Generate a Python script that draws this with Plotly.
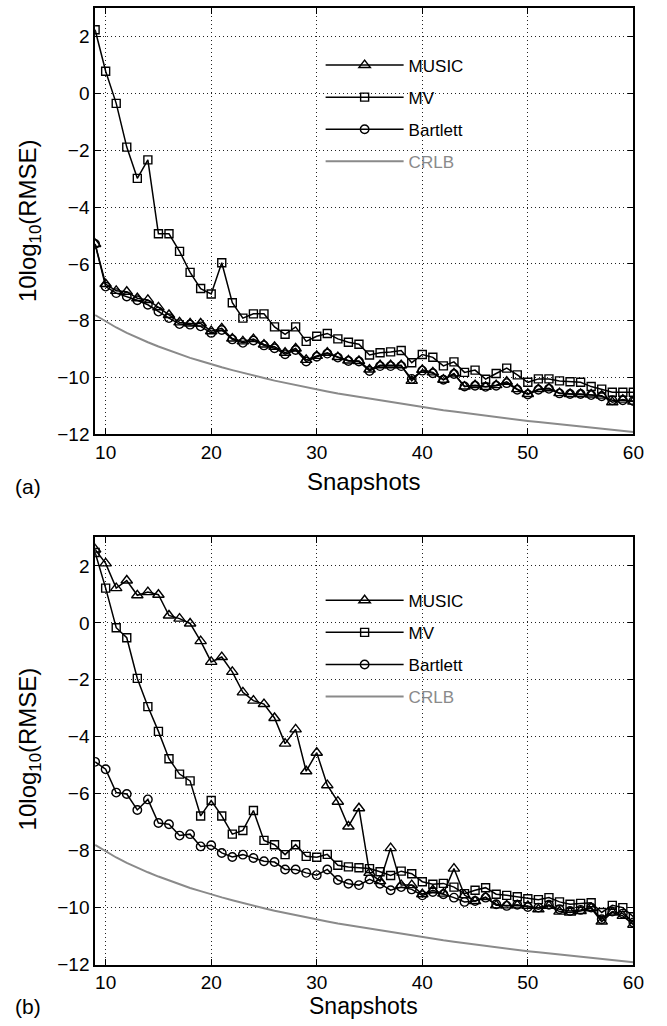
import plotly.graph_objects as go

W, H = 667, 1026

snapshots = list(range(9, 61))

# ---- panel (a) ----
music_a = [-5.30, -6.71, -6.95, -6.98, -7.21, -7.27, -7.53, -7.80, -8.06, -8.10,
           -8.10, -8.37, -8.27, -8.63, -8.73, -8.65, -8.84, -8.92, -9.13, -8.98,
           -9.38, -9.24, -9.13, -9.28, -9.40, -9.42, -9.72, -9.57, -9.57, -9.57,
           -10.12, -9.73, -9.82, -10.08, -9.86, -10.32, -10.27, -10.33, -10.27, -10.15,
           -10.41, -10.58, -10.41, -10.38, -10.55, -10.58, -10.58, -10.60, -10.64, -10.87,
           -10.78, -10.85]
mv_a = [2.24, 0.78, -0.35, -1.89, -2.99, -2.34, -4.94, -4.94, -5.56, -6.30,
        -6.87, -7.06, -5.96, -7.37, -7.91, -7.76, -7.76, -8.22, -8.48, -8.22,
        -8.73, -8.55, -8.45, -8.64, -8.76, -8.83, -9.21, -9.13, -9.10, -9.05,
        -9.48, -9.19, -9.29, -9.59, -9.45, -9.82, -9.74, -10.06, -9.86, -9.67,
        -9.91, -10.17, -10.05, -10.05, -10.12, -10.15, -10.17, -10.32, -10.41, -10.52,
        -10.52, -10.52]
bartlett_a = [-5.30, -6.80, -7.03, -7.15, -7.28, -7.44, -7.68, -7.91, -8.12, -8.14,
              -8.20, -8.43, -8.33, -8.66, -8.78, -8.70, -8.87, -8.97, -9.18, -9.03,
              -9.44, -9.27, -9.16, -9.30, -9.42, -9.44, -9.77, -9.60, -9.60, -9.60,
              -10.05, -9.76, -9.85, -10.08, -9.88, -10.32, -10.29, -10.33, -10.29, -10.20,
              -10.43, -10.60, -10.43, -10.40, -10.56, -10.58, -10.58, -10.62, -10.66, -10.80,
              -10.80, -10.83]

# ---- panel (b) ----
music_b = [2.58, 2.09, 1.22, 1.49, 0.97, 1.08, 0.99, 0.26, 0.15, -0.02,
           -0.64, -1.37, -1.20, -1.72, -2.44, -2.73, -2.85, -3.34, -4.24, -3.74,
           -5.21, -4.56, -5.70, -6.28, -7.15, -6.51, -8.78, -9.07, -7.91, -9.21,
           -9.21, -9.53, -9.39, -9.51, -8.63, -9.56, -9.77, -9.63, -9.92, -9.92,
           -9.92, -9.94, -10.06, -9.94, -10.14, -10.17, -10.12, -10.02, -10.49, -10.17,
           -10.29, -10.60]
mv_b = [2.47, 1.22, -0.17, -0.52, -1.95, -2.94, -3.81, -4.77, -5.31, -5.55,
        -6.78, -6.24, -6.78, -7.42, -7.29, -6.59, -7.64, -7.79, -8.14, -7.79,
        -8.20, -8.23, -8.13, -8.51, -8.57, -8.60, -8.63, -8.74, -8.87, -8.72,
        -8.81, -9.09, -9.18, -9.15, -9.28, -9.51, -9.39, -9.30, -9.53, -9.57,
        -9.62, -9.69, -9.72, -9.65, -9.80, -9.88, -9.85, -9.83, -10.17, -9.92,
        -10.00, -10.32]
bartlett_b = [-4.88, -5.14, -5.96, -6.01, -6.57, -6.20, -7.03, -7.07, -7.47, -7.42,
              -7.85, -7.81, -8.08, -8.22, -8.14, -8.26, -8.37, -8.40, -8.66, -8.66,
              -8.78, -8.86, -8.66, -9.03, -9.16, -9.21, -9.01, -9.16, -9.39, -9.28,
              -9.36, -9.57, -9.45, -9.53, -9.65, -9.80, -9.77, -9.65, -9.88, -9.94,
              -9.90, -9.98, -10.00, -9.90, -10.06, -10.12, -10.08, -10.00, -10.41, -10.14,
              -10.21, -10.52]

# CRLB (same in both panels)
crlb = [-7.80, -8.03, -8.24, -8.43, -8.60, -8.76, -8.91, -9.05, -9.18, -9.31,
        -9.42, -9.54, -9.64, -9.74, -9.84, -9.93, -10.02, -10.11, -10.19, -10.27,
        -10.34, -10.42, -10.49, -10.56, -10.62, -10.69, -10.75, -10.81, -10.87, -10.93,
        -10.99, -11.04, -11.09, -11.15, -11.20, -11.25, -11.30, -11.34, -11.39, -11.44,
        -11.48, -11.53, -11.57, -11.61, -11.65, -11.69, -11.73, -11.77, -11.81, -11.85,
        -11.88, -11.92]

x_ticks = [10, 20, 30, 40, 50, 60]
y_ticks = [-12, -10, -8, -6, -4, -2, 0, 2]

FONT = "Liberation Sans, Arial, Helvetica, sans-serif"

def px_x(p):
    return p / W

def px_y(p):
    return 1 - p / H

fig = go.Figure()

panels = [
    ("x", "y", "legend", "a", music_a, mv_a, bartlett_a),
    ("x2", "y2", "legend2", "b", music_b, mv_b, bartlett_b),
]

for xa, ya, lg, tag, mu, mv, ba in panels:
    fig.add_trace(go.Scatter(
        x=snapshots, y=mu, name="MUSIC", mode="lines+markers", xaxis=xa, yaxis=ya,
        legend=lg, legendgroup=tag + "1",
        line=dict(color="black", width=1.5),
        marker=dict(symbol="triangle-up-open", size=10, color="black", line=dict(width=1.4))))
    fig.add_trace(go.Scatter(
        x=snapshots, y=mv, name="MV", mode="lines+markers", xaxis=xa, yaxis=ya,
        legend=lg, legendgroup=tag + "2",
        line=dict(color="black", width=1.5),
        marker=dict(symbol="square-open", size=8, color="black", line=dict(width=1.4))))
    fig.add_trace(go.Scatter(
        x=snapshots, y=ba, name="Bartlett", mode="lines+markers", xaxis=xa, yaxis=ya,
        legend=lg, legendgroup=tag + "3",
        line=dict(color="black", width=1.5),
        marker=dict(symbol="circle-open", size=8.5, color="black", line=dict(width=1.4))))
    fig.add_trace(go.Scatter(
        x=snapshots, y=crlb, name='<span style="color:#8a8a8a">CRLB</span>', mode="lines",
        xaxis=xa, yaxis=ya, legend=lg, legendgroup=tag + "4",
        line=dict(color="#8a8a8a", width=2)))

x_dom = [px_x(96.7), px_x(644)]
y_dom_a = [px_y(439), px_y(8.3)]
y_dom_b = [px_y(975), px_y(543.3)]

axis_common = dict(
    showline=True, linecolor="black", linewidth=1.6, mirror="all",
    ticks="inside", ticklen=6, tickwidth=1.3, tickcolor="black",
    showgrid=True, gridcolor="#222222", gridwidth=1, griddash="1px,3px",
    zeroline=False, tickfont=dict(family=FONT, size=19, color="black"),
)

xcfg = dict(axis_common, range=[9, 60], tickvals=x_ticks, domain=x_dom)
ycfg = dict(axis_common, range=[-12, 3], tickvals=y_ticks)

legend_common = dict(xanchor="left", yanchor="top", bgcolor="rgba(0,0,0,0)",
                     font=dict(family=FONT, size=17, color="black"),
                     tracegroupgap=7, itemwidth=78)

fig.update_layout(
    width=W, height=H,
    margin=dict(l=0, r=0, t=0, b=0),
    paper_bgcolor="white", plot_bgcolor="white",
    font=dict(family=FONT, color="black"),
    xaxis=dict(xcfg, anchor="y"),
    yaxis=dict(ycfg, domain=y_dom_a, anchor="x"),
    xaxis2=dict(xcfg, anchor="y2"),
    yaxis2=dict(ycfg, domain=y_dom_b, anchor="x2"),
    legend=dict(legend_common, x=px_x(326), y=px_y(48)),
    legend2=dict(legend_common, x=px_x(326), y=px_y(589)),
    showlegend=True,
)

ann = []
ytitle = "10log<sub>10</sub>(RMSE)"
ann.append(dict(text=ytitle, x=px_x(30), y=px_y(223), xref="paper", yref="paper",
                textangle=-90, showarrow=False, font=dict(family=FONT, size=24),
                xanchor="center", yanchor="middle"))
ann.append(dict(text=ytitle, x=px_x(30), y=px_y(757), xref="paper", yref="paper",
                textangle=-90, showarrow=False, font=dict(family=FONT, size=24),
                xanchor="center", yanchor="middle"))
ann.append(dict(text="Snapshots", x=px_x(370), y=px_y(487), xref="paper", yref="paper",
                showarrow=False, font=dict(family=FONT, size=24),
                xanchor="center", yanchor="middle"))
ann.append(dict(text="Snapshots", x=px_x(370), y=px_y(1017), xref="paper", yref="paper",
                showarrow=False, font=dict(family=FONT, size=23),
                xanchor="center", yanchor="middle"))
ann.append(dict(text="(a)", x=px_x(28), y=px_y(492), xref="paper", yref="paper",
                showarrow=False, font=dict(family=FONT, size=21),
                xanchor="center", yanchor="middle"))
ann.append(dict(text="(b)", x=px_x(28), y=px_y(1017), xref="paper", yref="paper",
                showarrow=False, font=dict(family=FONT, size=21),
                xanchor="center", yanchor="middle"))
fig.update_layout(annotations=ann)

fig.write_html("out.html")
